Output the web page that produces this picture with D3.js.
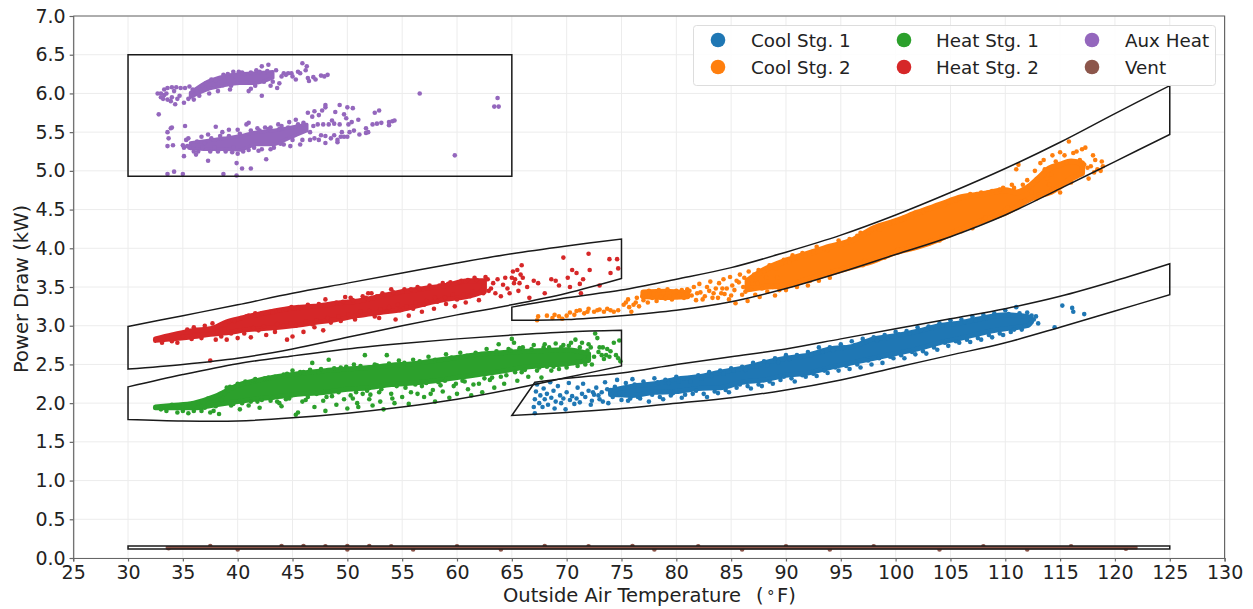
<!DOCTYPE html>
<html><head><meta charset="utf-8">
<script src="https://cdn.jsdelivr.net/npm/d3@7"></script>
<style>html,body{margin:0;background:#fff}svg{display:block;font-family:"DejaVu Sans",sans-serif}</style>
</head><body><svg id="c" width="1253" height="609"></svg>
<script>
// All values are estimates. The original has thousands of overplotted dots;
// the solid middle of each cloud is stored as a read-off low/high envelope, and the visible dots as points.
const xTicks=[25,30,35,40,45,50,55,60,65,70,75,80,85,90,95,100,105,110,115,120,125,130];
const yTicks=[0,0.5,1,1.5,2,2.5,3,3.5,4,4.5,5,5.5,6,6.5,7];
const names=["Cool Stg. 1","Cool Stg. 2","Heat Stg. 1","Heat Stg. 2","Aux Heat","Vent"];
const colors=["#1f77b4","#ff7f0e","#2ca02c","#d62728","#9467bd","#8c564b"];

// limit boxes [x,y]
const cool1Upper=[[67.1,2.27],[70,2.32],[75,2.39],[80,2.5],[85,2.6],[90,2.7],[95,2.83],[100,2.96],[105,3.09],[110,3.22],[115,3.38],[120,3.58],[125,3.8]];
const cool1Lower=[[65,1.84],[70,1.88],[75,1.93],[80,2],[85,2.07],[90,2.17],[95,2.3],[100,2.46],[105,2.62],[110,2.78],[115,2.98],[120,3.19],[125,3.4]];
const cool2Upper=[[65,3.24],[70,3.36],[75,3.46],[80,3.6],[85,3.75],[90,3.95],[95,4.17],[100,4.43],[105,4.72],[110,5.03],[115,5.37],[120,5.74],[125,6.1]];
const cool2Lower=[[65,3.07],[70,3.08],[75,3.13],[80,3.2],[85,3.31],[90,3.48],[95,3.69],[100,3.92],[105,4.15],[110,4.43],[115,4.77],[120,5.12],[125,5.47]];
const heat1Upper=[[30,2.21],[35,2.37],[40,2.51],[45,2.61],[50,2.7],[55,2.77],[60,2.83],[65,2.88],[70,2.92],[75,2.94]];
const heat1Lower=[[30,1.79],[35,1.77],[40,1.77],[45,1.81],[50,1.87],[55,1.95],[60,2.05],[65,2.18],[70,2.33],[75,2.48]];
const heat2Upper=[[30,2.99],[35,3.13],[40,3.27],[45,3.42],[50,3.55],[55,3.68],[60,3.81],[65,3.93],[70,4.03],[75,4.12]];
const heat2Lower=[[30,2.44],[35,2.5],[40,2.58],[45,2.7],[50,2.85],[55,3],[60,3.14],[65,3.27],[70,3.42],[75,3.61]];
const auxBox=[[30,4.93],[30,6.5],[65,6.5],[65,4.93]];
const ventBox=[[30,0.115],[30,0.155],[125,0.155],[125,0.115]];
const curvedBoxes=[[cool1Upper,cool1Lower],[cool2Upper,cool2Lower],[heat1Upper,heat1Lower],[heat2Upper,heat2Lower]];
const straightBoxes=[auxBox,ventBox];

// solid cloud cores [x,low,high]
const cool1Core=[[74,2.11,2.16],[76,2.1,2.22],[78,2.14,2.25],[80,2.15,2.31],[82,2.19,2.34],[84,2.2,2.4],[86,2.27,2.45],[88,2.3,2.52],[90,2.36,2.58],[92,2.39,2.62],[94,2.46,2.7],[96,2.52,2.73],[98,2.58,2.83],[100,2.64,2.87],[102,2.7,2.93],[104,2.78,3],[106,2.84,3.04],[108,2.91,3.1],[110,2.96,3.14],[112,3,3.12],[112.4,3.05,3.09]];
const cool2CoreLeft=[[77,3.38,3.43],[79,3.37,3.44],[81,3.38,3.42]];
const cool2Core=[[86.5,3.47,3.58],[88,3.5,3.72],[90,3.52,3.84],[92,3.6,3.93],[94,3.68,4.02],[96,3.76,4.1],[98,3.84,4.26],[100,3.95,4.35],[102,4.02,4.46],[104,4.12,4.56],[106,4.25,4.66],[108,4.36,4.7],[110,4.46,4.75],[111,4.53,4.72],[112,4.62,4.78],[113,4.68,4.9],[114,4.72,5.03],[115,4.8,5.08],[116,4.9,5.12],[117,4.97,5.1]];
const heat1Core=[[32.5,1.94,1.95],[34,1.94,1.97],[36,1.94,2],[38,1.98,2.09],[40,2.02,2.23],[42,2.06,2.3],[44,2.09,2.35],[46,2.12,2.39],[48,2.14,2.42],[50,2.18,2.44],[52,2.2,2.46],[54,2.24,2.49],[56,2.26,2.51],[58,2.29,2.55],[60,2.33,2.59],[62,2.37,2.63],[64,2.41,2.65],[66,2.46,2.67],[68,2.49,2.68],[70,2.51,2.69],[72,2.55,2.64]];
const heat2Core=[[32.5,2.81,2.83],[34,2.83,2.88],[36,2.86,2.94],[37.5,2.89,2.96],[39,2.91,3.05],[41,2.95,3.12],[43,2.97,3.18],[45,3,3.23],[47,3.04,3.25],[49,3.08,3.29],[51,3.13,3.32],[53,3.17,3.38],[55,3.21,3.44],[57,3.28,3.48],[59,3.34,3.52],[61,3.38,3.58],[62.5,3.44,3.58]];
const auxCoreUpper=[[35.7,5.95,6.01],[37.2,6.05,6.15],[38.7,6.1,6.22],[40.2,6.13,6.25],[41.4,6.13,6.26],[43.2,6.2,6.28]];
const auxCoreLower=[[35.7,5.29,5.36],[37.2,5.28,5.39],[38.7,5.28,5.42],[40.2,5.27,5.45],[41.7,5.34,5.5],[43.2,5.34,5.52],[44.8,5.43,5.56],[46.3,5.52,5.6]];
const ventCore=[[33.5,0.12,0.145],[122,0.12,0.145]];

const cool1Points=[[67,1.95],[67.1,2.05],[67.2,2.15],[67.3,2.24],[67.1,1.87],[67.5,2],[67.6,2.1],[67.8,1.95],[67.9,2.19],[68,2.05],[68.2,2.12],[68.3,1.98],[68.5,2.27],[68.6,2.07],[68.8,2.16],[68.9,1.93],[69,2.02],[69.2,2.22],[69.4,2.1],[69.5,2],[69.7,2.06],[69.9,1.92],[70,2.14],[70.2,2.26],[70.3,2.04],[70.5,2.09],[70.7,1.99],[70.9,2.06],[71,2.2],[71.2,2.01],[71.4,2.12],[71.5,2.25],[71.7,2.08],[72,2.16],[72.2,1.98],[72.3,2.03],[72.5,2.11],[72.7,2.2],[73,2.05],[73.2,2.14],[73.5,2.27],[73.8,2],[74,2.17],[74.2,2.08],[74.6,2.3],[75,2.04],[75.4,2.26],[75.8,2.06],[76,2.31],[76.5,2.08],[77,2.28],[77.5,2.02],[78,2.32],[78.5,2.08],[79,2.3],[79.5,2.1],[80,2.34],[80.5,2.07],[81,2.32],[81.5,2.12],[82,2.36],[82.5,2.12],[83,2.4],[83.5,2.15],[84,2.42],[84.5,2.17],[85,2.45],[85.5,2.2],[86,2.47],[86.5,2.22],[87,2.52],[87.5,2.24],[88,2.54],[88.5,2.28],[89,2.58],[89.5,2.3],[90,2.62],[90.5,2.32],[91,2.62],[91.5,2.36],[92,2.66],[92.5,2.38],[93,2.72],[93.5,2.42],[94,2.72],[94.5,2.46],[95,2.76],[95.5,2.48],[96,2.8],[96.5,2.5],[97,2.83],[97.5,2.55],[98,2.85],[98.5,2.58],[99,2.88],[99.5,2.6],[100,2.92],[100.5,2.62],[101,2.93],[101.5,2.66],[102,2.98],[102.5,2.67],[103,2.99],[103.5,2.72],[104,3.03],[104.5,2.78],[105,3.07],[105.5,2.8],[106,3.08],[106.5,2.82],[107,3.12],[107.5,2.84],[108,3.14],[108.5,2.88],[109,3.16],[109.5,2.9],[110,3.2],[110.5,2.92],[111,3.24],[111.5,2.95],[112,3.17],[112.6,3.08],[113,3.03],[112.8,3.12],[114.5,2.98],[115.2,3.26],[116.1,3.23],[116.2,3.18],[117.2,3.15]];
const cool1Extra=[[72.4,2.14],[72.9,2.1],[73.3,2.02],[73.7,2.18],[74.4,2.21],[74.8,2.13],[75.2,2.19],[75.6,2.03],[76.2,2.24],[76.7,2.06],[77.2,2.24],[77.8,2.11],[78.3,2.27],[78.8,2.05],[79.3,2.26],[79.7,2.13],[80.2,2.28],[80.8,2.11],[81.3,2.28],[81.8,2.16],[82.3,2.32],[82.8,2.08],[83.2,2.35],[83.8,2.13],[84.3,2.38],[84.8,2.14],[85.2,2.42],[85.8,2.24],[86.3,2.43],[86.8,2.19],[87.3,2.47],[87.8,2.22],[88.3,2.49],[88.8,2.25],[89.3,2.53],[89.8,2.34],[90.3,2.57],[90.8,2.28],[91.3,2.59],[91.8,2.34],[92.3,2.62],[92.8,2.35],[93.3,2.66],[93.8,2.39],[94.3,2.68],[94.8,2.42],[95.3,2.72],[95.8,2.44],[96.3,2.75],[96.8,2.46],[97.3,2.79],[97.8,2.5],[98.3,2.81],[98.8,2.52],[99.3,2.84],[99.8,2.58],[100.3,2.89],[100.8,2.58],[101.3,2.9],[101.8,2.63],[102.3,2.94],[102.8,2.64],[103.3,2.96],[103.8,2.69],[104.3,3],[104.8,2.74],[105.3,3.02],[105.8,2.78],[106.3,3.05],[106.8,2.79],[107.3,3.07],[107.8,2.82],[108.3,3.1],[108.8,2.85],[109.3,3.12],[109.8,2.88],[110.3,3.15],[110.8,2.95],[111.3,3.16],[111.8,3],[112.2,3.02],[112.4,3.13]];
const cool2Points=[[67.3,3.07],[67.4,3.12],[68.2,3.13],[68.7,3.1],[69.3,3.12],[69.6,3.09],[70.3,3.17],[70.7,3.14],[71.2,3.2],[71.6,3.16],[72,3.22],[72.5,3.18],[73,3.21],[73.4,3.18],[74,3.2],[74.7,3.2],[75.2,3.27],[75.7,3.24],[75.9,3.18],[76.3,3.3],[76.6,3.25],[77,3.33],[77.4,3.3],[77.8,3.36],[78.2,3.32],[78.6,3.38],[79,3.35],[79.6,3.34],[80,3.45],[80.3,3.4],[80.7,3.36],[81,3.47],[81.4,3.39],[81.8,3.33],[82.2,3.43],[82.6,3.38],[83,3.45],[83.4,3.42],[83.8,3.36],[84.2,3.48],[84.4,3.41],[84.8,3.34],[85.1,3.52],[85.4,3.29],[85.7,3.56],[86,3.4],[86.2,3.62],[86.5,3.32],[86.8,3.47],[87.1,3.66],[87.4,3.55],[87.6,3.37],[88,3.7],[88.3,3.44],[88.6,3.75],[89,3.39],[89.2,3.62],[89.6,3.8],[90,3.46],[90.3,3.82],[90.6,3.91],[91,3.5],[91.5,3.94],[92,3.52],[92.5,3.96],[93,3.58],[93.5,4],[94,3.62],[94.5,4.04],[95,3.72],[95.5,4.08],[96,3.76],[96.5,4.16],[97,3.78],[97.5,4.2],[98,3.85],[98.5,4.24],[99,3.88],[99.5,4.32],[100,3.95],[100.5,4.36],[101,3.99],[101.5,4.4],[102,4.02],[102.5,4.47],[103,4.06],[103.5,4.52],[104,4.1],[104.5,4.56],[105,4.17],[105.5,4.62],[106,4.22],[106.5,4.66],[107,4.26],[107.4,4.7],[108,4.36],[108.4,4.72],[109,4.43],[109.5,4.76],[110,4.5],[110.6,4.82],[111,5.02],[111.2,5.08],[111.8,4.62],[112,4.88],[112.4,4.72],[112.7,5],[113,4.67],[113.2,5.1],[113.5,5.14],[113.8,4.9],[114,4.82],[114.3,5.2],[114.6,5.12],[115,5.24],[115,4.72],[115.4,5.2],[115.8,5.38],[116,4.85],[116.2,5.23],[116.5,5.25],[116.7,4.95],[117,5.28],[117.3,5.3],[117.5,5.04],[117.6,4.9],[118,5.2],[118.2,5.14],[118.4,5.02],[118.8,5.12],[118.9,5.06],[118.7,5]];
const cool2Extra=[[68.9,3.14],[70,3.13],[70.9,3.19],[71.9,3.18],[72.8,3.2],[73.7,3.22],[74.3,3.18],[75.4,3.3],[75.6,3.34],[76.1,3.27],[76.4,3.36],[76.9,3.38],[77.2,3.42],[77.5,3.45],[77.9,3.41],[78.4,3.46],[78.8,3.42],[79.2,3.47],[79.4,3.38],[79.8,3.43],[80.1,3.37],[80.5,3.46],[80.9,3.41],[81.2,3.45],[81.6,3.5],[81.9,3.42],[82.1,3.54],[82.4,3.34],[82.8,3.5],[83.1,3.57],[83.3,3.36],[83.6,3.48],[83.9,3.55],[84.1,3.42],[84.3,3.6],[84.6,3.48],[84.9,3.63],[85,3.39],[85.3,3.46],[85.5,3.58],[85.8,3.66],[86.1,3.5],[86.3,3.44],[86.6,3.7],[86.9,3.58],[87.2,3.4],[87.5,3.72],[87.8,3.48],[88.2,3.62],[88.5,3.78],[88.8,3.5],[89.1,3.74],[89.4,3.46],[89.8,3.85],[90.2,3.52],[90.8,3.88],[91.2,3.56],[91.8,3.9],[92.2,3.58],[92.8,4.02],[93.2,3.64],[93.8,3.98],[94.2,3.7],[94.8,4.1],[95.2,3.75],[95.8,4.12],[96.2,3.8],[96.8,4.2],[97.2,3.84],[97.8,4.24],[98.2,3.88],[98.8,4.3],[99.2,3.94],[99.8,4.35],[100.2,3.98],[100.8,4.4],[101.2,4.03],[101.8,4.46],[102.2,4.06],[102.8,4.5],[103.2,4.1],[103.8,4.55],[104.2,4.14],[104.8,4.6],[105.2,4.22],[105.8,4.64],[106.2,4.26],[106.8,4.7],[107.2,4.3],[107.8,4.72],[108.2,4.4],[108.8,4.74],[109.2,4.46],[109.8,4.78],[110.2,4.53],[110.8,4.78],[111.4,4.6],[111.6,4.82],[112.2,4.8],[112.8,4.64],[112.9,4.88],[113.4,4.72],[113.6,5.02],[114.2,4.95],[114.4,4.76],[114.8,5.06],[115.2,4.85],[115.6,5.1],[116.4,4.92],[116.8,5.14],[117.2,5.08],[117.8,5.06],[118.1,4.98]];
const heat1Points=[[32.6,1.94],[33,1.92],[33.5,1.9],[34,1.98],[34.5,1.88],[35,1.9],[35.5,1.87],[36,1.9],[36.4,2],[37,1.94],[37.5,1.88],[38,1.96],[38.3,1.86],[38.8,2.12],[39,2.2],[39.3,2.21],[39.6,1.99],[40,2.25],[40.2,1.92],[40.7,2.28],[41,1.97],[41.4,2.29],[41.8,2.02],[42,1.94],[42.5,2.32],[43,2.03],[43.4,2.34],[43.8,2],[44,1.96],[44.5,2.38],[44.7,2.06],[45,2.42],[45.3,1.85],[45.5,1.88],[45.9,2.02],[46,2.4],[46.4,2.08],[46.8,2.52],[47,1.95],[47.4,2.4],[47.8,2.03],[48,1.9],[48.3,2.56],[48.6,2.09],[49,1.98],[49.4,2.46],[49.7,2.05],[50,1.93],[50.3,2.1],[50.6,2.5],[50.9,2],[51,1.95],[51.4,2.12],[51.6,2.62],[52,2.05],[52.3,1.97],[52.5,2.5],[52.9,2.14],[53,2.02],[53.3,1.92],[53.6,2.62],[54,2.12],[54.3,2],[54.7,2.55],[55,2.08],[55.3,2.2],[55.6,1.99],[56,2.56],[56.4,2.12],[56.8,2.22],[57,2.08],[57.4,2.6],[57.8,2.17],[58,2.02],[58.3,2.27],[58.7,2.15],[59,2.63],[59.3,2.07],[59.7,2.22],[60,2.12],[60.3,2.65],[60.7,2.28],[61,2.18],[61.3,2.1],[61.7,2.65],[62,2.25],[62.3,2.14],[62.7,2.7],[63,2.3],[63.4,2.2],[63.8,2.76],[64,2.34],[64.3,2.25],[64.7,2.7],[65,2.83],[65.2,2.78],[65.5,2.29],[65.9,2.4],[66,2.72],[66.5,2.34],[67,2.75],[67.3,2.42],[67.7,2.33],[68,2.76],[68.2,2.47],[68.6,2.42],[69,2.77],[69.3,2.44],[69.7,2.75],[70,2.46],[70.4,2.78],[70.6,2.52],[70.8,2.82],[71,2.48],[71.4,2.78],[71.7,2.5],[72,2.76],[72.3,2.5],[72.6,2.9],[72.8,2.84],[73,2.72],[73.2,2.62],[73.4,2.57],[73.7,2.7],[74,2.67],[74.3,2.78],[74.8,2.81],[74.7,2.58],[74.9,2.54],[74.5,2.62]];
const heat1Extra=[[36.7,1.9],[37.3,2.06],[37.8,1.9],[38.5,2.04],[39.4,1.97],[40.4,2],[40.9,2.25],[41.2,2.02],[41.6,2.31],[42.2,2.04],[42.8,2.33],[43.2,2.07],[43.6,2.02],[44.2,2.37],[44.4,2.05],[44.9,2.1],[45.7,2.4],[46.2,2.04],[46.6,2.43],[47.2,2.12],[47.6,2.44],[48.1,2.08],[48.8,2.45],[49.2,2.14],[49.9,2.47],[50.5,2.06],[50.8,2.14],[51.2,2.48],[51.8,2.16],[52.1,2.11],[52.7,2.49],[53.1,2.18],[53.8,2.51],[54.1,2.06],[54.5,2.22],[55.2,2.52],[55.8,2.14],[56.2,2.24],[56.6,2.54],[57.2,2.26],[57.6,2.12],[58,2.56],[58.5,2.23],[58.9,2.29],[59.5,2.59],[59.9,2.25],[60.5,2.29],[60.9,2.61],[61.5,2.24],[61.9,2.63],[62.5,2.32],[62.9,2.64],[63.2,2.33],[63.6,2.67],[64.5,2.36],[64.9,2.68],[65.3,2.4],[65.7,2.71],[66.2,2.43],[66.8,2.7],[67.5,2.46],[67.9,2.72],[68.4,2.72],[68.8,2.47],[69.5,2.72],[69.9,2.5],[70.2,2.74],[71.2,2.72],[71.6,2.56],[71.9,2.68],[72.2,2.72],[72.5,2.6],[72.9,2.66],[73.3,2.72],[73.6,2.62],[73.9,2.6]];
const heat2Points=[[32.6,2.82],[33.1,2.78],[33.6,2.84],[34,2.8],[34.5,2.78],[35,2.86],[35.4,2.95],[35.8,2.83],[36,2.98],[36.7,2.84],[37,3],[37.3,2.89],[37.5,2.55],[37.7,3.03],[38,2.82],[38.2,2.92],[38.5,2.86],[38.9,3.02],[39,2.82],[39.4,2.9],[39.7,3.06],[40,2.84],[40.3,3.1],[40.6,2.9],[41,3.13],[41.2,2.85],[41.6,3.16],[41.9,2.94],[42.2,3.16],[42.6,2.88],[43,3.18],[43.4,2.92],[43.8,3.2],[44.2,3],[44.5,2.82],[44.9,3.24],[45,2.86],[45.3,3],[45.7,3.23],[46,2.92],[46.4,3.27],[46.8,3.02],[47,2.98],[47.4,3.28],[47.8,2.94],[48,3.34],[48.5,3.04],[49,3.3],[49.4,3.06],[49.8,3.37],[50.3,3.36],[50.7,3.08],[51,3.15],[51.4,3.38],[51.9,3.42],[52.2,3.42],[52.5,3.12],[52.9,3.1],[53.2,3.42],[53.6,3.18],[54,3.47],[54.4,3.08],[54.8,3.2],[55.2,3.47],[55.6,3.13],[56,3.22],[56.4,3.5],[56.8,3.18],[57,3.27],[57.5,3.52],[57.9,3.22],[58.2,3.31],[58.7,3.55],[59,3.28],[59.4,3.56],[59.8,3.25],[60,3.34],[60.4,3.58],[60.8,3.3],[61.2,3.38],[61.6,3.62],[62,3.33],[62.4,3.42],[62.8,3.6],[62.9,3.45],[63.3,3.55],[63.5,3.42],[64,3.38],[64.2,3.53],[64.6,3.48],[65,3.62],[65.2,3.55],[65.5,3.72],[65.6,3.45],[65.9,3.78],[66,3.62],[66.4,3.5],[66.6,3.36],[67,3.58],[67.4,3.55],[68,3.42],[68.6,3.6],[69,3.58],[69.3,3.52],[69.7,3.88],[70.1,3.62],[70.3,3.5],[70.5,3.72],[70.9,3.68],[71.2,3.54],[71.3,3.42],[71.5,3.6],[72,3.93],[72.1,3.72],[73,3.52],[74,3.68],[74.6,3.86],[74.7,3.74],[73.9,3.86]];
const heat2Extra=[[38.8,2.95],[39.2,3.05],[40.2,2.94],[40.8,3.12],[41.4,2.97],[41.8,3.14],[42.4,2.99],[43.2,3.17],[43.6,3.02],[44.4,3.21],[44.8,3.03],[45.5,3.24],[46.2,3.05],[46.6,3.25],[47.2,3.07],[47.6,3.26],[48.2,3.1],[48.7,3.28],[49.2,3.12],[49.6,3.31],[50.1,3.14],[50.5,3.33],[51.2,3.18],[51.7,3.36],[52,3.19],[52.7,3.38],[53,3.21],[53.4,3.4],[53.8,3.24],[54.2,3.43],[54.6,3.27],[55,3.44],[55.4,3.25],[55.8,3.47],[56.2,3.3],[56.6,3.48],[57.2,3.32],[57.7,3.5],[58,3.36],[58.4,3.52],[58.9,3.36],[59.2,3.54],[59.6,3.4],[60.2,3.56],[60.6,3.4],[61,3.59],[61.4,3.44],[61.8,3.59],[62.2,3.46],[62.6,3.63],[63.1,3.48],[63.7,3.6],[64.4,3.62],[64.8,3.42],[65.1,3.7],[65.3,3.6],[65.7,3.55],[65.8,3.66]];
const auxPoints=[[32.8,5.73],[33.6,4.96],[34.2,4.99],[35,4.96],[38.7,4.96],[39.9,4.94],[39.9,5.1],[40.4,5.03],[41.2,5.03],[42.6,5.15],[37.3,5.13],[35.1,5.19],[33.6,5.32],[34.1,5.33],[33.7,5.42],[33.6,5.5],[33.9,5.55],[34,5.56],[35.2,5.58],[35.3,5.4],[35.5,5.42],[35.1,5.3],[35.4,5.32],[36,5.25],[36.4,5.25],[36.7,5.44],[37.3,5.47],[38,5.57],[38.6,5.5],[39.2,5.53],[40,5.53],[40.8,5.6],[41,5.62],[41.8,5.55],[42.5,5.56],[43,5.56],[43.7,5.6],[44,5.58],[44.7,5.63],[45.3,5.66],[46,5.62],[46.4,5.75],[46.8,5.7],[47,5.77],[47.4,5.72],[47.7,5.78],[48,5.85],[48,5.82],[48.6,5.65],[48.9,5.76],[49.3,5.85],[49.7,5.73],[50,5.82],[50.5,5.81],[49.9,5.68],[50.1,5.6],[50.4,5.63],[51,5.66],[50.2,5.5],[50.6,5.52],[51.1,5.47],[51.7,5.49],[51.7,5.55],[51.9,5.5],[52.5,5.75],[52.9,5.78],[52.3,5.6],[52.7,5.61],[53.1,5.62],[53.8,5.59],[53.8,5.63],[54.1,5.64],[54.3,5.65],[49.1,5.37],[49.4,5.44],[48,5.36],[47.4,5.4],[46.6,5.4],[45.7,5.34],[44.8,5.32],[43.9,5.35],[43,5.28],[41.9,5.26],[41,5.27],[40,5.22],[39.5,5.24],[37.5,5.25],[36.2,5.21],
[32.7,6],[33,5.95],[33.3,5.98],[33.6,5.92],[34,5.95],[34.2,6.03],[34.3,5.86],[34.7,5.97],[35.1,5.88],[35.5,5.93],[35.9,6.05],[36,5.92],[36.5,5.97],[37,6.06],[37.4,6],[37.8,6.12],[38.2,6.03],[38.8,6.17],[39.3,6.05],[39.6,6.28],[40.1,6.28],[40.6,6.25],[41,6.03],[41.2,6.06],[41.7,6.3],[42.2,6.35],[42.2,5.97],[42.8,6.37],[43,6.1],[43.5,6.3],[43.6,6.07],[43.8,6.13],[44.2,6.26],[44.6,6.26],[45,6.22],[45.3,6.18],[45.5,6.28],[45.9,6.39],[46.2,6.3],[46.3,6.35],[46.4,6.2],[46.5,6.16],[46.9,6.21],[47.1,6.18],[47.6,6.23],[47.9,6.22],[48.2,6.24],[56.6,6],[59.8,5.2],[63.7,5.94],[63.4,5.83],[63.8,5.83]];
const auxExtra=[[33.3,6.05],[33.6,6.07],[34,6.08],[34.4,6.08],[34.8,6.07],[35.2,6.07],[35.6,6.09],[33,6],[33.2,5.93],[33.5,6],[33.9,5.9],[34.5,5.93],[35.8,5.97],[36.3,6.02],[36.8,6.1],[37.1,6.13],[37.6,6.18],[38,6.17],[38.4,6.2],[38.7,6.24],[39.1,6.25],[39.4,6.1],[39.8,6.22],[40.4,6.27],[40.8,6.14],[41.2,6.27],[41.6,6.1],[42,6.28],[42.4,6.15],[42.7,6.29],[43.2,6.15],[44,6.22],[44.4,6.24],[44.9,6.26],[45.7,6.26],
[35,5.33],[35.6,5.3],[36,5.33],[36.3,5.38],[36.8,5.3],[37,5.36],[37.6,5.42],[37.9,5.3],[38.2,5.25],[38.4,5.45],[38.9,5.25],[39.2,5.45],[39.6,5.3],[40.2,5.48],[40.5,5.25],[41.2,5.52],[41.5,5.3],[42,5.52],[42.2,5.28],[42.8,5.54],[43.3,5.3],[43.8,5.54],[44.2,5.34],[44.6,5.56],[45,5.4],[45.5,5.6],[45.9,5.4],[46,5.6],[46.6,5.5],[46.9,5.58],[47,5.42],[47.3,5.6],[47.6,5.46],[47.8,5.6],[48,5.45],[48.3,5.6],[48.5,5.42],[48.8,5.61],[48.8,5.46],[49.1,5.4],[49.3,5.6],[49.5,5.5],[49.7,5.44],[50,5.44]];
const ventPoints=[[33.7,0.125],[37.5,0.155],[40,0.11],[44,0.155],[46,0.155],[48,0.15],[50,0.155],[50,0.11],[52,0.155],[54,0.15],[56,0.11],[60,0.15],[64,0.11],[68,0.155],[72,0.15],[76,0.155],[78,0.11],[82,0.15],[86,0.11],[90,0.15],[94,0.11],[98,0.15],[104,0.11],[108,0.15],[112,0.11],[116,0.15],[121,0.12]];
const seriesPoints=[[...cool1Points,...cool1Extra],[...cool2Points,...cool2Extra],[...heat1Points,...heat1Extra],[...heat2Points,...heat2Extra],[...auxPoints,...auxExtra],ventPoints];
const seriesCores=[[cool1Core],[cool2CoreLeft,cool2Core],[heat1Core],[heat2Core],[auxCoreUpper,auxCoreLower],[ventCore]];
const legendOrder=[0,2,4,1,3,5];

const svg=d3.select("#c");
const x=d3.scaleLinear().domain([25,130]).range([73.2,1224.6]);
const y=d3.scaleLinear().domain([0,7]).range([558,16]);
const grid=svg.append("g").attr("stroke","#ececec").attr("stroke-width",1);
grid.selectAll("line.v").data(xTicks).join("line").attr("x1",d=>x(d)).attr("x2",d=>x(d)).attr("y1",y(0)).attr("y2",y(7));
grid.selectAll("line.h").data(yTicks).join("line").attr("y1",d=>y(d)).attr("y2",d=>y(d)).attr("x1",x(25)).attr("x2",x(130));

const coreStroke=[5,6,5,5,3.5,1.5];
const area=d3.area().x(d=>x(d[0])).y0(d=>y(d[1])).y1(d=>y(d[2])).curve(d3.curveMonotoneX);
[4,2,0,1,3,5].forEach(i=>{
  const g=svg.append("g").attr("fill",colors[i]);
  seriesCores[i].forEach(c=>g.append("path").attr("d",area(c)).attr("stroke",colors[i]).attr("stroke-width",coreStroke[i]).attr("stroke-linejoin","round"));
  g.selectAll("circle").data(seriesPoints[i]).join("circle").attr("cx",d=>x(d[0])).attr("cy",d=>y(d[1])).attr("r",2.3);
});
const curved=d3.line().x(d=>x(d[0])).y(d=>y(d[1])).curve(d3.curveCatmullRom);
const straight=d3.line().x(d=>x(d[0])).y(d=>y(d[1]));
const boxG=svg.append("g").attr("fill","none").attr("stroke","#1a1a1a").attr("stroke-width",1.5);
curvedBoxes.forEach(([u,l])=>{
  boxG.append("path").attr("d",curved(u)+"L"+curved(l.slice().reverse()).slice(1)+"Z");
});
straightBoxes.forEach(b=>boxG.append("path").attr("d",straight(b)+"Z"));

const axX=d3.axisBottom(x).tickValues(xTicks).tickSize(3.5).tickPadding(4).tickFormat(d3.format("d"));
const axY=d3.axisLeft(y).tickValues(yTicks).tickSize(3.5).tickPadding(4).tickFormat(d3.format(".1f"));
[[axX,`translate(0,${y(0)})`],[axY,`translate(${x(25)},0)`]].forEach(([a,t])=>{
  const g=svg.append("g").attr("transform",t).call(a);
  g.selectAll("text").attr("font-size",19).attr("fill","#222").attr("font-family","DejaVu Sans");
  g.selectAll(".domain,line").attr("stroke","#666").attr("stroke-width",1.2);
});
svg.append("path").attr("d",`M${x(25)},${y(7)}H${x(130)}V${y(0)}`).attr("fill","none").attr("stroke","#666").attr("stroke-width",1.2);

const xl=svg.append("g").attr("font-size",19.5).attr("fill","#222");
xl.append("text").attr("x",503).attr("y",602).text("Outside Air Temperature");
xl.append("text").attr("x",756).attr("y",602).text("(");
xl.append("text").attr("x",767).attr("y",602).attr("font-size",15).text("°");
xl.append("text").attr("x",777).attr("y",602).text("F)");
svg.append("text").attr("transform","translate(28,289) rotate(-90)").attr("text-anchor","middle").attr("font-size",19.5).attr("fill","#222").text("Power Draw (kW)");

svg.append("rect").attr("x",693.5).attr("y",25.5).attr("width",522).attr("height",60).attr("rx",3).attr("fill","#fff").attr("fill-opacity",.85).attr("stroke","#ddd");
const lx=[718,904,1092], tx=[751,936,1125], ly=[40,67];
legendOrder.forEach((s,k)=>{
  const col=k%3, row=k<3?0:1;
  svg.append("circle").attr("cx",lx[col]).attr("cy",ly[row]).attr("r",7.3).attr("fill",colors[s]);
  svg.append("text").attr("x",tx[col]).attr("y",ly[row]+6.5).attr("font-size",18.3).attr("fill","#222").text(names[s]);
});
</script></body></html>
